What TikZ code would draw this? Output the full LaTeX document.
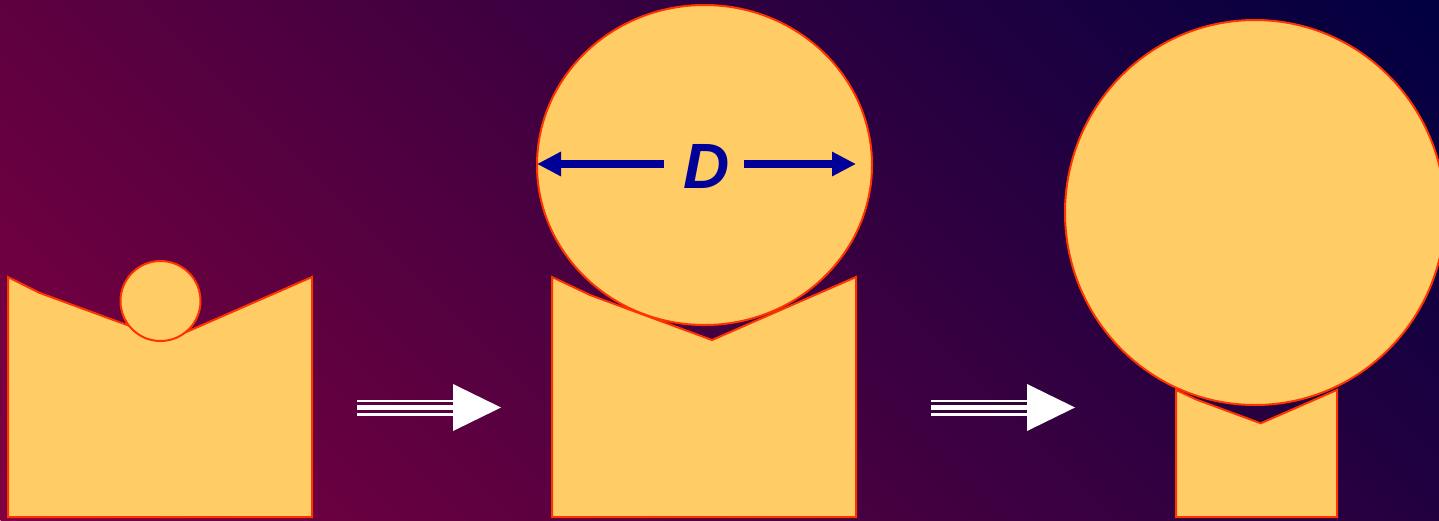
\documentclass[tikz,border=0pt]{standalone}
\usepackage{fontspec}
\setmainfont{Liberation Sans}
\usetikzlibrary{arrows.meta}
\definecolor{bgA}{RGB}{128,0,64}
\definecolor{bgM}{RGB}{64,0,78}
\definecolor{bgB}{RGB}{0,0,64}
\definecolor{fillc}{RGB}{255,204,102}
\definecolor{edgec}{RGB}{255,51,0}
\definecolor{dblue}{RGB}{0,0,153}
\begin{document}
\begin{tikzpicture}[x=1pt,y=-1pt,
  solid/.style={fill=fillc,draw=edgec,line width=2pt,line join=miter},
  dim/.style={draw=dblue,line width=8pt,-{Triangle[length=24pt,width=23pt]}},
  wline/.style={draw=white},
  whead/.style={fill=white}]
\useasboundingbox (0,0) rectangle (1439,520);
\begin{scope}
\clip (0,0) rectangle (1439,520);
\begin{scope}[transform canvas={rotate around={-45:(719.5,260)}}]
\shade[shading=axis,top color=bgB,middle color=bgM,bottom color=bgA]
  (-80.5,-432.5) rectangle (1519.5,952.5);
\end{scope}
\end{scope}

% shape 1
\draw[solid] (8,277) -- (40,293) -- (168,340) -- (312,277) -- (312,517) -- (8,517) -- cycle;
\draw[solid] (160.5,301) ellipse [x radius=40, y radius=40];

% shape 2
\draw[solid] (552,277) -- (590,295) -- (712,340) -- (856,277) -- (856,517) -- (552,517) -- cycle;
\draw[solid] (704.5,165) ellipse [x radius=167.5, y radius=160];

% shape 3
\draw[solid] (1176,389.9) -- (1196.1,399.4) -- (1260.7,423.3) -- (1337,389.9) -- (1337,517) -- (1176,517) -- cycle;
\draw[solid] (1255,212.5) ellipse [x radius=190, y radius=192.5];

% dimension D
\coordinate (DLs) at (664,164);
\coordinate (DL) at (537,164);
\coordinate (DRs) at (744,164);
\coordinate (DR) at (856,164);
\draw[dim] (DLs) -- (DL);
\draw[dim] (DRs) -- (DR);
\node[text=dblue,inner sep=0pt,font=\fontsize{64}{64}\selectfont\bfseries\itshape] (D) at (707,166) {D};

% white arrow 1
\coordinate (A1s) at (357,407.5);
\coordinate (A1b) at (454,407.5);
\draw[wline,line width=2.7pt] ([yshift=-6.8pt]A1s) -- ([yshift=-6.8pt]A1b);
\draw[wline,line width=5.6pt] (A1s) -- (A1b);
\draw[wline,line width=2.7pt] ([yshift=6.5pt]A1s) -- ([yshift=6.5pt]A1b);
\fill[whead] (453,384) -- (501,407.5) -- (453,431) -- cycle;

% white arrow 2
\coordinate (A2s) at (931,407.5);
\coordinate (A2b) at (1028,407.5);
\draw[wline,line width=2.7pt] ([yshift=-6.8pt]A2s) -- ([yshift=-6.8pt]A2b);
\draw[wline,line width=5.6pt] (A2s) -- (A2b);
\draw[wline,line width=2.7pt] ([yshift=6.5pt]A2s) -- ([yshift=6.5pt]A2b);
\fill[whead] (1027,384) -- (1075,407.5) -- (1027,431) -- cycle;
\end{tikzpicture}
\end{document}
